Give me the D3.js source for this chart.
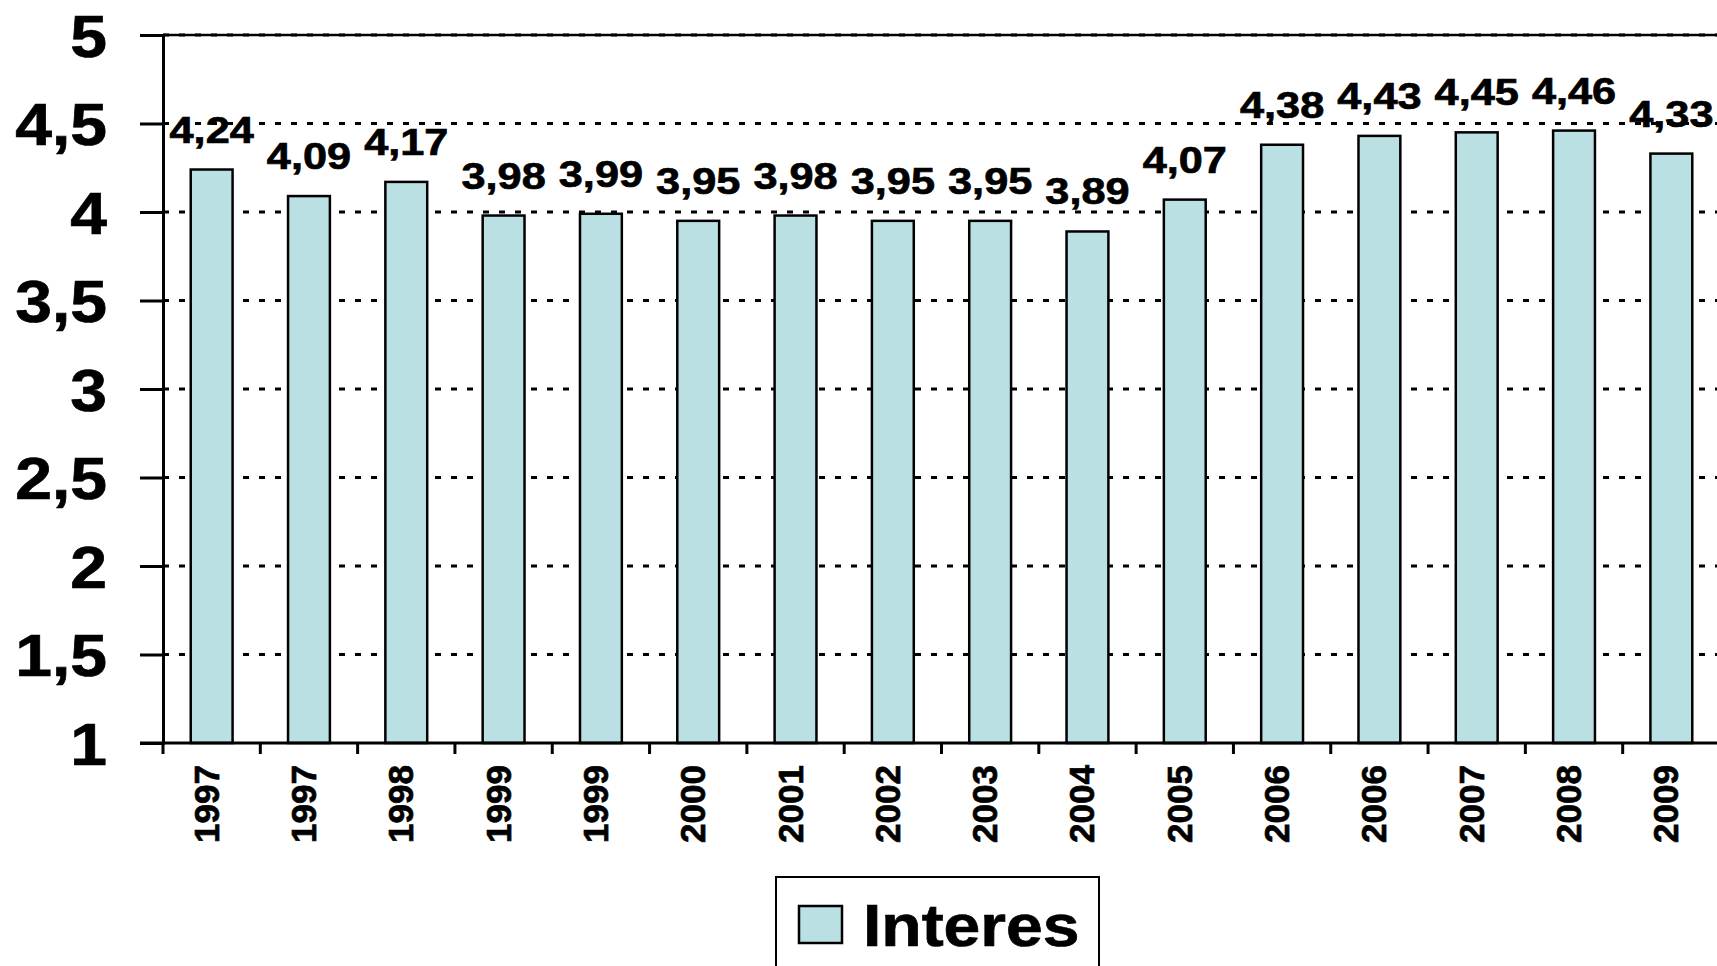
<!DOCTYPE html>
<html>
<head>
<meta charset="utf-8">
<script src="https://cdn.jsdelivr.net/npm/d3@7"></script>
<style>
  body { margin: 0; background: #fff; overflow: hidden; }
  text { font-family: "Liberation Sans", Arial, sans-serif; font-weight: bold; fill: #000;
         stroke: #000; stroke-width: 0.7px; }
</style>
</head>
<body>
<svg width="1717" height="966"></svg>
<script>
// data
var years = ['1997', '1997', '1998', '1999', '1999', '2000', '2001', '2002',
             '2003', '2004', '2005', '2006', '2006', '2007', '2008', '2009'];
var interes = [4.24, 4.09, 4.17, 3.98, 3.99, 3.95, 3.98, 3.95,
               3.95, 3.89, 4.07, 4.38, 4.43, 4.45, 4.46, 4.33];
var yTicks = [1, 1.5, 2, 2.5, 3, 3.5, 4, 4.5, 5];
var seriesName = 'Interes';

var svg = d3.select('svg');
var plotL = 163, plotR = 1720, plotT = 35, plotB = 743;
var barColor = '#bbe0e3';

var x = d3.scaleBand().domain(d3.range(years.length)).range([plotL, plotR])
    .paddingInner(0.57).paddingOuter(0.285);
var y = d3.scaleLinear().domain([1, 5]).range([plotB, plotT]);
var fmt = function (v) { return String(v).replace('.', ','); };

// gridlines
svg.append('g').selectAll('line').data(yTicks.filter(function (d) { return d > 1; }))
    .enter().append('line')
    .attr('x1', plotL).attr('x2', 1717)
    .attr('y1', function (d) { return y(d); }).attr('y2', function (d) { return y(d); })
    .attr('stroke', '#000').attr('stroke-width', 3).attr('stroke-dasharray', '6,10');
svg.append('line').attr('x1', plotL).attr('x2', 1717).attr('y1', y(5)).attr('y2', y(5))
    .attr('stroke', '#000').attr('stroke-width', 2.5);

// bars
svg.append('g').selectAll('rect').data(interes).enter().append('rect')
    .attr('x', function (d, i) { return x(i); })
    .attr('y', function (d) { return y(d); })
    .attr('width', x.bandwidth())
    .attr('height', function (d) { return y(1) - y(d); })
    .attr('fill', barColor).attr('stroke', '#000').attr('stroke-width', 2.5);

// value labels
svg.append('g').selectAll('text').data(interes).enter().append('text')
    .attr('transform', function (d, i) {
        return 'translate(' + (x(i) + x.bandwidth() / 2) + ',' + (y(d) - 27) + ') scale(1.17,1)';
    })
    .attr('text-anchor', 'middle').style('font-size', '37px')
    .text(function (d) { return fmt(d); });

// y axis
var yAxis = svg.append('g').attr('transform', 'translate(' + plotL + ',0)')
    .call(d3.axisLeft(y).tickValues(yTicks).tickSize(23).tickPadding(0).tickFormat(fmt));
yAxis.attr('font-family', null).attr('font-size', null);
yAxis.select('.domain').attr('stroke', '#000').attr('stroke-width', 3);
yAxis.selectAll('.tick line').attr('stroke', '#000').attr('stroke-width', 3);
yAxis.selectAll('.tick text').attr('x', null).attr('dy', null)
    .attr('transform', 'translate(-56,21) scale(1.12,1)')
    .attr('text-anchor', 'end').style('font-size', '59px');

// x axis line + ticks at band edges
var step = x.step();
svg.append('line').attr('x1', plotL - 23).attr('x2', 1717).attr('y1', plotB).attr('y2', plotB)
    .attr('stroke', '#000').attr('stroke-width', 3);
svg.append('g').selectAll('line').data(d3.range(years.length + 1)).enter().append('line')
    .attr('x1', function (i) { return plotL + i * step; })
    .attr('x2', function (i) { return plotL + i * step; })
    .attr('y1', plotB).attr('y2', plotB + 11)
    .attr('stroke', '#000').attr('stroke-width', 3);

// x labels, rotated
svg.append('g').selectAll('text').data(years).enter().append('text')
    .attr('transform', function (d, i) {
        return 'translate(' + (x(i) + x.bandwidth() / 2 + 7) + ',' + 765 + ') rotate(-90)';
    })
    .attr('text-anchor', 'end').style('font-size', '35px')
    .text(function (d) { return d; });

// legend
var lg = svg.append('g');
lg.append('rect').attr('x', 776).attr('y', 877).attr('width', 323).attr('height', 120)
    .attr('fill', '#fff').attr('stroke', '#000').attr('stroke-width', 2);
lg.append('rect').attr('x', 799).attr('y', 906).attr('width', 43).attr('height', 37)
    .attr('fill', barColor).attr('stroke', '#000').attr('stroke-width', 2.5);
lg.append('text').attr('transform', 'translate(863,946) scale(1.1,1)')
    .style('font-size', '60px').text(seriesName);
</script>
</body>
</html>
